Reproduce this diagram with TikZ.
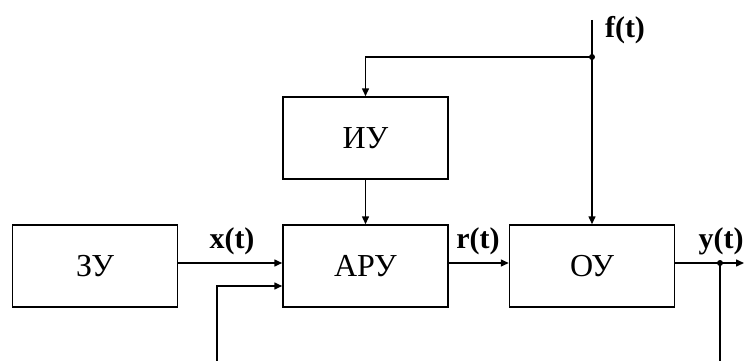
\documentclass[tikz,border=0pt]{standalone}
\usepackage{fontspec}
\setmainfont{Liberation Serif}
\usetikzlibrary{arrows.meta}
\begin{document}
\begin{tikzpicture}[x=1pt,y=-1pt,line width=1.5pt,
  blk/.style={draw,minimum width=165pt,minimum height=82pt,inner sep=0pt,font=\fontsize{32}{34}\selectfont},
  lbl/.style={inner sep=0pt,font=\bfseries\fontsize{30}{32}\selectfont},
  arr/.style={-{Triangle[length=8pt,width=7pt]}},
  jdot/.style={circle,fill,inner sep=0pt,minimum size=6pt}]
\useasboundingbox (0,0) rectangle (744,361);
\node[blk] (zu)  at (95,266)    {ЗУ};
\node[blk] (aru) at (365.5,266) {АРУ};
\node[blk] (ou)  at (592,266)   {ОУ};
\node[blk] (iu)  at (365.5,138) {ИУ};
\coordinate (ftop) at (592,20);
\node[jdot] (fj) at (592,57) {};
\coordinate (fb) at (217,361);
\coordinate (out) at (744,263);
\node[jdot] (yj) at (720,263) {};
\coordinate (yb) at (720,361);
\draw[arr] ([yshift=3pt]zu.east) -- ([yshift=3pt]aru.west);
\draw[arr] (fb) |- ([yshift=-20pt]aru.west);
\draw[arr] ([yshift=3pt]aru.east) -- ([yshift=3pt]ou.west);
\draw[arr] ([yshift=3pt]ou.east) -- (out);
\draw (yj.center) -- (yb);
\draw[arr] (ftop) -- (ou.north);
\draw[arr] (fj.center) -| (iu.north);
\draw[arr] (iu.south) -- (aru.north);
\node[lbl] (lx) at (232,241) {x(t)};
\node[lbl] (lr) at (478,241) {r(t)};
\node[lbl] (ly) at (721,241) {y(t)};
\node[lbl] (lf) at (625,30) {f(t)};
\end{tikzpicture}
\end{document}
